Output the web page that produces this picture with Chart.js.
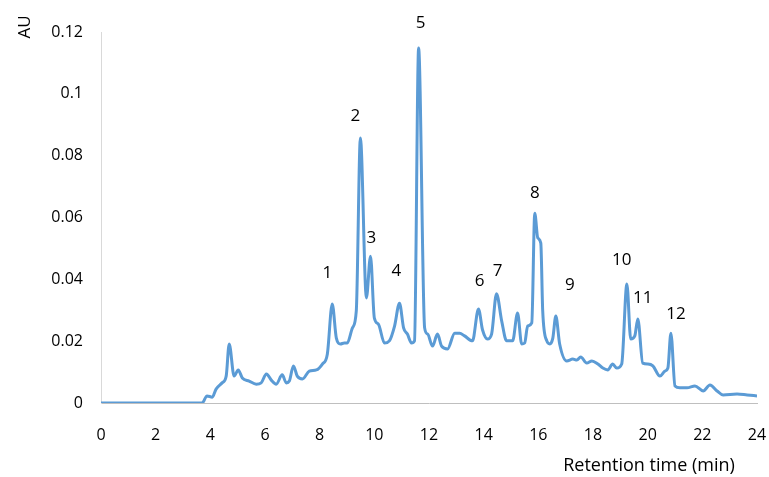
<!DOCTYPE html>
<html>
<head>
<meta charset="utf-8">
<script src="https://cdn.jsdelivr.net/npm/chart.js@4"></script>
<style>
  body { margin: 0; background: #fff; }
  #wrap { width: 769px; height: 477px; }
</style>
</head>
<body>
<div id="wrap"><canvas id="myChart"></canvas></div>
<script>
// retention time (min) and absorbance (AU)
const times = [
  0, 3.70, 3.88, 4.07, 4.21, 4.43, 4.58, 4.69, 4.87, 5.02, 5.17, 5.42, 5.68, 5.86,
  6.05, 6.23, 6.41, 6.63, 6.78, 6.89, 7.04, 7.18, 7.37, 7.62, 7.88, 8.10, 8.28,
  8.46, 8.61, 8.76, 8.90, 9.01, 9.20, 9.34, 9.49, 9.71, 9.86, 10.00, 10.15, 10.37,
  10.55, 10.74, 10.92, 11.07, 11.21, 11.36, 11.47, 11.62, 11.84, 11.95, 12.13,
  12.31, 12.46, 12.68, 12.94, 13.12, 13.30, 13.59, 13.81, 13.96, 14.14, 14.29,
  14.47, 14.66, 14.84, 15.06, 15.24, 15.39, 15.50, 15.61, 15.76, 15.87, 15.98,
  16.09, 16.16, 16.31, 16.42, 16.53, 16.64, 16.78, 17.04, 17.26, 17.41, 17.55,
  17.77, 17.96, 18.18, 18.36, 18.54, 18.72, 18.87, 19.05, 19.24, 19.38, 19.53,
  19.64, 19.82, 20.01, 20.19, 20.45, 20.63, 20.74, 20.85, 21.00, 21.18, 21.44,
  21.73, 22.03, 22.28, 22.54, 22.76, 23.27, 23.64, 24.0
];
const absorbance = [
  0, 0, 0.0023, 0.0019, 0.0045, 0.0065, 0.0087, 0.0191, 0.0087, 0.0107, 0.0081, 0.0071, 0.0061, 0.0065,
  0.0094, 0.0074, 0.0061, 0.0091, 0.0065, 0.0071, 0.0120, 0.0087, 0.0078, 0.0103, 0.0107, 0.0126, 0.0158,
  0.0320, 0.0210, 0.0191, 0.0194, 0.0194, 0.0243, 0.0298, 0.0857, 0.0340, 0.0475, 0.0275, 0.0255, 0.0194,
  0.0201, 0.0249, 0.0323, 0.0243, 0.0223, 0.0194, 0.0201, 0.1148, 0.0243, 0.0223, 0.0184,
  0.0223, 0.0184, 0.0175, 0.0226, 0.0226, 0.0217, 0.0201, 0.0304, 0.0236, 0.0207, 0.0223,
  0.0353, 0.0265, 0.0201, 0.0201, 0.0291, 0.0191, 0.0194, 0.0249, 0.0259, 0.0614, 0.0534,
  0.0517, 0.0298, 0.0201, 0.0191, 0.0210, 0.0281, 0.0191, 0.0136, 0.0142, 0.0139, 0.0149,
  0.0129, 0.0136, 0.0126, 0.0113, 0.0107, 0.0126, 0.0113, 0.0126, 0.0385, 0.0207, 0.0217,
  0.0272, 0.0129, 0.0126, 0.0120, 0.0087, 0.0103, 0.0113, 0.0226, 0.0055, 0.0049, 0.0049,
  0.0055, 0.0039, 0.0058, 0.0039, 0.0026, 0.0029, 0.0026, 0.0023
];

// peak numbers and where they sit
const peakNames = ['1', '2', '3', '4', '5', '6', '7', '8', '9', '10', '11', '12'];
const peakX = [8.28, 9.31, 9.89, 10.81, 11.69, 13.85, 14.51, 15.87, 17.15, 19.05, 19.82, 21.04];
const peakY = [0.042, 0.0928, 0.0534, 0.0427, 0.1229, 0.0395, 0.0427, 0.0679, 0.0382, 0.0462, 0.034, 0.0288];

const xTicks = [0, 2, 4, 6, 8, 10, 12, 14, 16, 18, 20, 22, 24];
const yTicks = [0, 0.02, 0.04, 0.06, 0.08, 0.1, 0.12];

const FONT = "'Open Sans', sans-serif";

const peakLabels = {
  id: 'peakLabels',
  afterDatasetsDraw(chart) {
    const { ctx, scales: { x, y } } = chart;
    ctx.save();
    ctx.font = '17px ' + FONT;
    ctx.fillStyle = '#000';
    ctx.textAlign = 'center';
    ctx.textBaseline = 'middle';
    peakNames.forEach((n, i) => {
      ctx.fillText(n, x.getPixelForValue(peakX[i]), y.getPixelForValue(peakY[i]));
    });
    // axis titles, placed like the original (AU above the axis, x title off to the right)
    ctx.font = '18px ' + FONT;
    ctx.fillText('Retention time (min)', 649, 466);
    ctx.font = '17px ' + FONT;
    ctx.translate(25, 27);
    ctx.rotate(-Math.PI / 2);
    ctx.fillText('AU', 0, 0);
    ctx.restore();
  }
};

const data = {
  datasets: [{
    data: times.map((t, i) => ({ x: t, y: absorbance[i] })),
    borderColor: '#5B9BD5',
    borderWidth: 3,
    pointRadius: 0,
    fill: false,
    tension: 0.4,
    cubicInterpolationMode: 'monotone'
  }]
};

const config = {
  type: 'line',
  data: data,
  plugins: [peakLabels],
  options: {
    responsive: false,
    animation: false,
    layout: { padding: { left: 0, right: 12, top: 32, bottom: 0 } },
    plugins: { legend: { display: false }, tooltip: { enabled: false } },
    scales: {
      x: {
        type: 'linear',
        min: 0, max: 24,
        afterFit: s => { s.height = 74; s.paddingLeft = 0; s.paddingRight = 0; },
        afterBuildTicks: s => { s.ticks = xTicks.map(v => ({ value: v })); },
        grid: { display: false, drawTicks: false },
        border: { display: true, color: '#bfbfbf', width: 1 },
        ticks: { color: '#000', font: { family: FONT, size: 16 }, padding: 23, maxRotation: 0 }
      },
      y: {
        min: 0, max: 0.12,
        afterFit: s => { s.width = 101; s.paddingTop = 0; s.paddingBottom = 0; },
        afterBuildTicks: s => { s.ticks = yTicks.map(v => ({ value: v })); },
        grid: { display: false, drawTicks: false },
        border: { display: true, color: '#d9d9d9', width: 1 },
        ticks: {
          color: '#000', font: { family: FONT, size: 16 }, padding: 18,
          callback: v => String(Number(v.toFixed(2)))
        }
      }
    }
  }
};

const canvas = document.getElementById('myChart');
canvas.width = 769;
canvas.height = 477;
new Chart(canvas, config);
</script>
</body>
</html>
